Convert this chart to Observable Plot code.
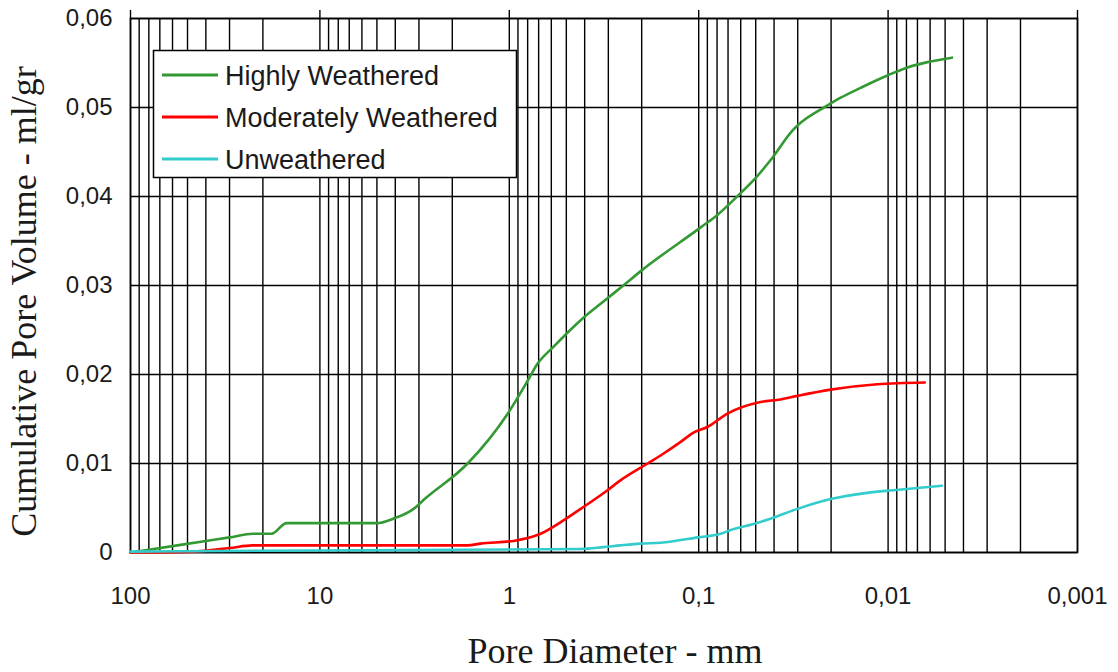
<!DOCTYPE html>
<html>
<head>
<meta charset="utf-8">
<script src="https://cdn.jsdelivr.net/npm/d3@7"></script>
<script src="https://cdn.jsdelivr.net/npm/@observablehq/plot@0.6"></script>
<style>
  html, body { margin: 0; padding: 0; background: #fff; }
  #chart { width: 1118px; height: 672px; }
</style>
</head>
<body>
<div id="chart"></div>
<script>
// ---- Data (pore diameter in mm, cumulative pore volume in ml/gr) ----
const seriesNames = ["Highly Weathered", "Moderately Weathered", "Unweathered"];
const seriesColors = ["#339933", "#ff0000", "#33cccc"];

const highlyD = [100, 80, 40, 30, 22.5, 18, 15, 5, 4.1, 3.2, 2.8, 1.66, 1.02, 0.80, 0.71, 0.585, 0.42, 0.31, 0.25, 0.20, 0.098, 0.080, 0.062, 0.050, 0.041, 0.032, 0.030, 0.021, 0.0178, 0.014, 0.0101, 0.0079, 0.0062, 0.0046];
const highlyV = [0, 0.0003, 0.0013, 0.0017, 0.0021, 0.0021, 0.0033, 0.0033, 0.0038, 0.0049, 0.0060, 0.0100, 0.0156, 0.0193, 0.0212, 0.0231, 0.0261, 0.0284, 0.0300, 0.0317, 0.0365, 0.0379, 0.0401, 0.0421, 0.0443, 0.0474, 0.0480, 0.0502, 0.0511, 0.0522, 0.0536, 0.0545, 0.0551, 0.0556];

const moderateD = [100, 47, 30, 22.7, 5, 1.66, 1.42, 0.95, 0.684, 0.518, 0.42, 0.303, 0.259, 0.186, 0.159, 0.125, 0.106, 0.090, 0.0705, 0.0472, 0.037, 0.0301, 0.0201, 0.0114, 0.0064];
const moderateV = [0, 0.0001, 0.0005, 0.0008, 0.0008, 0.0008, 0.0010, 0.0013, 0.0021, 0.0036, 0.0049, 0.0070, 0.0081, 0.0100, 0.0109, 0.0124, 0.0135, 0.0141, 0.0156, 0.0169, 0.0172, 0.0176, 0.0183, 0.0189, 0.0191];

const unweatheredD = [100, 20, 2, 0.42, 0.32, 0.259, 0.203, 0.159, 0.101, 0.0767, 0.0683, 0.0514, 0.0418, 0.0301, 0.0201, 0.0129, 0.0094, 0.0052];
const unweatheredV = [0.0001, 0.0002, 0.0003, 0.0004, 0.0006, 0.0008, 0.0010, 0.0011, 0.0017, 0.0021, 0.0025, 0.0032, 0.0038, 0.0049, 0.0060, 0.0067, 0.0070, 0.0075];

// ---- Axis ticks ----
const xTicks = [100, 10, 1, 0.1, 0.01, 0.001];
const xTickLabels = ["100", "10", "1", "0,1", "0,01", "0,001"];
const yTicks = [0, 0.01, 0.02, 0.03, 0.04, 0.05, 0.06];
const yTickLabels = ["0", "0,01", "0,02", "0,03", "0,04", "0,05", "0,06"];

const xTitle = "Pore Diameter - mm";
const yTitle = "Cumulative Pore Volume - ml/gr";

// log grid lines (1..9 per decade)
const xGrid = [];
for (let e = -3; e <= 1; e++) for (let k = 1; k <= 9; k++) xGrid.push(Number(k + "e" + e));
xGrid.push(100);

const toRows = (ds, vs) => ds.map((d, i) => ({d, v: vs[i]}));
const series = [
  toRows(highlyD, highlyV),
  toRows(moderateD, moderateV),
  toRows(unweatheredD, unweatheredV)
];

const legendMark = () => {
  const g = d3.create("svg:g");
  g.append("rect").attr("x", 153.5).attr("y", 50.5).attr("width", 363).attr("height", 127)
    .attr("fill", "#fff").attr("stroke", "#000").attr("stroke-width", 1.5);
  seriesNames.forEach((name, i) => {
    const yy = 75 + i * 42;
    g.append("line").attr("x1", 162).attr("x2", 218).attr("y1", yy).attr("y2", yy)
      .attr("stroke", seriesColors[i]).attr("stroke-width", 3);
    g.append("text").attr("x", 225).attr("y", yy + 9.5).text(name)
      .attr("text-anchor", "start")
      .attr("font-family", "Liberation Sans, Arial, sans-serif").attr("font-size", 27)
      .attr("fill", "#1a1a1a");
  });
  return g.node();
};

const chart = Plot.plot({
  width: 1118,
  height: 672,
  marginLeft: 130,
  marginRight: 41,
  marginTop: 18,
  marginBottom: 120,
  style: {fontFamily: "Liberation Sans, Arial, sans-serif", fontSize: "24px", color: "#1a1a1a", background: "#fff", overflow: "visible"},
  x: {type: "log", domain: [100, 0.001], ticks: xTicks, tickFormat: d => xTickLabels[xTicks.findIndex(t => Math.abs(t - d) / t < 1e-6)], tickSize: 0, tickPadding: 34, label: null},
  y: {domain: [0, 0.06], ticks: yTicks, tickFormat: d => yTickLabels[yTicks.findIndex(t => Math.abs(t - d) < 1e-9)], tickSize: 0, tickPadding: 18, label: null},
  marks: [
    Plot.ruleX(xGrid, {stroke: "#000", strokeWidth: 1.4}),
    Plot.ruleY(yTicks, {stroke: "#000", strokeWidth: 1.4}),
    Plot.ruleX(xTicks, {y1: 0.06, y2: 0.0609, stroke: "#000", strokeWidth: 1.4}),
    Plot.frame({stroke: "#000", strokeWidth: 1.6}),
    ...series.map((rows, i) => Plot.line(rows, {x: "d", y: "v", stroke: seriesColors[i], strokeWidth: 2.6, curve: "monotone-x"})),
    legendMark,
    Plot.text([xTitle], {frameAnchor: "bottom", textAnchor: "middle", lineAnchor: "middle", dx: 11, dy: 99, fontFamily: "Liberation Serif, Times New Roman, serif", fontSize: 36, fill: "#1a1a1a"}),
    Plot.text([yTitle], {frameAnchor: "left", textAnchor: "middle", lineAnchor: "middle", dx: -106, dy: 16, rotate: -90, fontFamily: "Liberation Serif, Times New Roman, serif", fontSize: 36, fill: "#1a1a1a"})
  ]
});
document.getElementById("chart").appendChild(chart);
</script>
</body>
</html>
